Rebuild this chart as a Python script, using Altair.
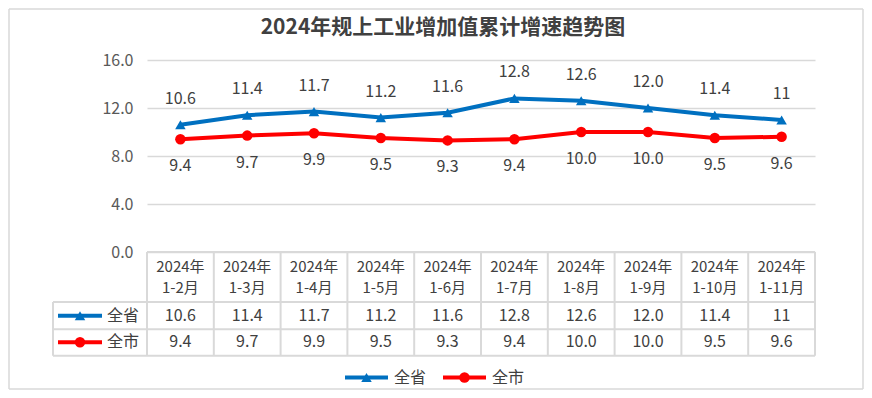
import altair as alt
import pandas as pd

# ---------------- data ----------------
categories = ["2024年1-2月", "2024年1-3月", "2024年1-4月", "2024年1-5月", "2024年1-6月",
              "2024年1-7月", "2024年1-8月", "2024年1-9月", "2024年1-10月", "2024年1-11月"]
province = [10.6, 11.4, 11.7, 11.2, 11.6, 12.8, 12.6, 12.0, 11.4, 11.0]
city = [9.4, 9.7, 9.9, 9.5, 9.3, 9.4, 10.0, 10.0, 9.5, 9.6]
province_labels = ["10.6", "11.4", "11.7", "11.2", "11.6", "12.8", "12.6", "12.0", "11.4", "11"]
city_labels = ["9.4", "9.7", "9.9", "9.5", "9.3", "9.4", "10.0", "10.0", "9.5", "9.6"]
series_names = ["全省", "全市"]
series_colors = ["#0070C0", "#FF0000"]
series_shapes = ["triangle-up", "circle"]
y_ticks = [0, 4, 8, 12, 16]
title_text = "2024年规上工业增加值累计增速趋势图"

# ---------------- tables ----------------
rows = []
for s, vals, labs in [(series_names[0], province, province_labels), (series_names[1], city, city_labels)]:
    for i, (c, v, l) in enumerate(zip(categories, vals, labs)):
        rows.append({"cat": c, "idx": i, "series": s, "value": v, "label": l})
df = pd.DataFrame(rows)
cat_df = pd.DataFrame({"cat": categories})
series_df = pd.DataFrame({"series": series_names})
one = alt.Data(values=[{"k": 1}])

FONT = "Noto Sans CJK SC"
TXT = "#404040"
GRID = "#d9d9d9"

x_scale = alt.Scale(type="band", domain=categories, paddingInner=0, paddingOuter=0)
color_scale = alt.Scale(domain=series_names, range=series_colors)
shape_scale = alt.Scale(domain=series_names, range=series_shapes)

X = alt.X("cat:N", scale=x_scale, axis=None, title=None)
COLOR = alt.Color("series:N", scale=color_scale, legend=None)
SHAPE = alt.Shape("series:N", scale=shape_scale, legend=None)

layers = []

# outer frame of the chart area
for xa, xb, ya, yb in [(-138, -138, -51, 329), (716, 716, -51, 329), (-138, 716, -51, -51), (-138, 716, 329, 329)]:
    layers.append(alt.Chart(one).mark_rule(color=GRID, strokeWidth=1.5).encode(
        x=alt.value(xa), x2=alt.value(xb), y=alt.value(ya), y2=alt.value(yb)))

# table grid
layers.append(alt.Chart(cat_df).mark_rule(color=GRID, strokeWidth=2).encode(
    x=alt.X("cat:N", scale=x_scale, axis=None, title=None, bandPosition=0),
    y=alt.value(192), y2=alt.value(295.7)))
layers.append(alt.Chart(cat_df.tail(1)).mark_rule(color=GRID, strokeWidth=2).encode(
    x=alt.X("cat:N", scale=x_scale, axis=None, title=None, bandPosition=1),
    y=alt.value(192), y2=alt.value(295.7)))
layers.append(alt.Chart(one).mark_rule(color=GRID, strokeWidth=2).encode(
    x=alt.value(-94), y=alt.value(242), y2=alt.value(295.7)))
for yy, x0 in [(192, 0), (242, -94), (269.3, -94), (295.7, -94)]:
    layers.append(alt.Chart(one).mark_rule(color=GRID, strokeWidth=2).encode(
        x=alt.value(x0), x2=alt.value(668), y=alt.value(yy)))

# lines + markers
Y = alt.Y("value:Q", scale=alt.Scale(domain=[0, 16]), title=None,
          axis=alt.Axis(values=y_ticks, format=".1f", labelFont=FONT, labelFontSize=16,
                        labelColor="#595959", labelPadding=14, ticks=False, domain=False,
                        gridColor=GRID, gridWidth=1.5))
layers.append(alt.Chart(df).mark_line(strokeWidth=4).encode(
    x=X, y=Y, color=COLOR, detail="series:N", order=alt.Order("idx:Q")))
layers.append(alt.Chart(df).mark_point(filled=True, size=110, opacity=1).encode(
    x=X, y=alt.Y("value:Q"), color=COLOR, shape=SHAPE))

# data labels
layers.append(alt.Chart(df).transform_filter(alt.datum.series == series_names[0]).mark_text(
    font=FONT, fontSize=16, color=TXT, dy=-26).encode(x=X, y=alt.Y("value:Q"), text="label:N"))
layers.append(alt.Chart(df).transform_filter(alt.datum.series == series_names[1]).mark_text(
    font=FONT, fontSize=16, color=TXT, dy=27).encode(x=X, y=alt.Y("value:Q"), text="label:N"))

# table header (two lines: year / month range)
hdr = alt.Chart(cat_df).transform_calculate(
    year="slice(datum.cat, 0, 5)", months="slice(datum.cat, 5)")
layers.append(hdr.mark_text(font=FONT, fontSize=15, color=TXT, baseline="middle").encode(
    x=X, y=alt.value(206.5), text="year:N"))
layers.append(hdr.mark_text(font=FONT, fontSize=15, color=TXT, baseline="middle").encode(
    x=X, y=alt.value(227.5), text="months:N"))

# table rows + row headers + bottom legend
row_y = [255.7, 282.3]
leg_x = [198, 296]
for i, s in enumerate(series_names):
    sub = alt.Chart(df).transform_filter(alt.datum.series == s)
    layers.append(sub.mark_text(font=FONT, fontSize=16, color=TXT).encode(
        x=X, y=alt.value(row_y[i]), text="label:N"))
    sd = alt.Chart(series_df).transform_filter(alt.datum.series == s)
    # row header symbol
    layers.append(sd.mark_rule(strokeWidth=4).encode(
        x=alt.value(-89), x2=alt.value(-45), y=alt.value(row_y[i]), color=COLOR))
    layers.append(sd.mark_point(filled=True, size=110, opacity=1).encode(
        x=alt.value(-67), y=alt.value(row_y[i]), color=COLOR, shape=SHAPE))
    layers.append(sd.mark_text(font=FONT, fontSize=16, color=TXT, align="left").encode(
        x=alt.value(-40), y=alt.value(row_y[i]), text="series:N"))
    # bottom legend
    layers.append(sd.mark_rule(strokeWidth=4).encode(
        x=alt.value(leg_x[i]), x2=alt.value(leg_x[i] + 43), y=alt.value(317.5), color=COLOR))
    layers.append(sd.mark_point(filled=True, size=110, opacity=1).encode(
        x=alt.value(leg_x[i] + 21.5), y=alt.value(317.5), color=COLOR, shape=SHAPE))
    layers.append(sd.mark_text(font=FONT, fontSize=16, color=TXT, align="left").encode(
        x=alt.value(leg_x[i] + 49), y=alt.value(317.5), text="series:N"))

# title
layers.append(alt.Chart(alt.Data(values=[{"t": title_text}])).mark_text(
    font=FONT, fontSize=21, fontWeight="bold", color=TXT, baseline="alphabetic").encode(
    x=alt.value(296), y=alt.value(-26), text="t:N"))

chart = alt.layer(*layers).properties(
    width=668, height=192,
    autosize=alt.AutoSizeParams(type="none"),
    padding={"left": 139, "top": 52, "right": 49, "bottom": 138},
).configure_view(strokeWidth=0)

chart.save("out.html", embed_options={"renderer": "svg", "actions": False})
